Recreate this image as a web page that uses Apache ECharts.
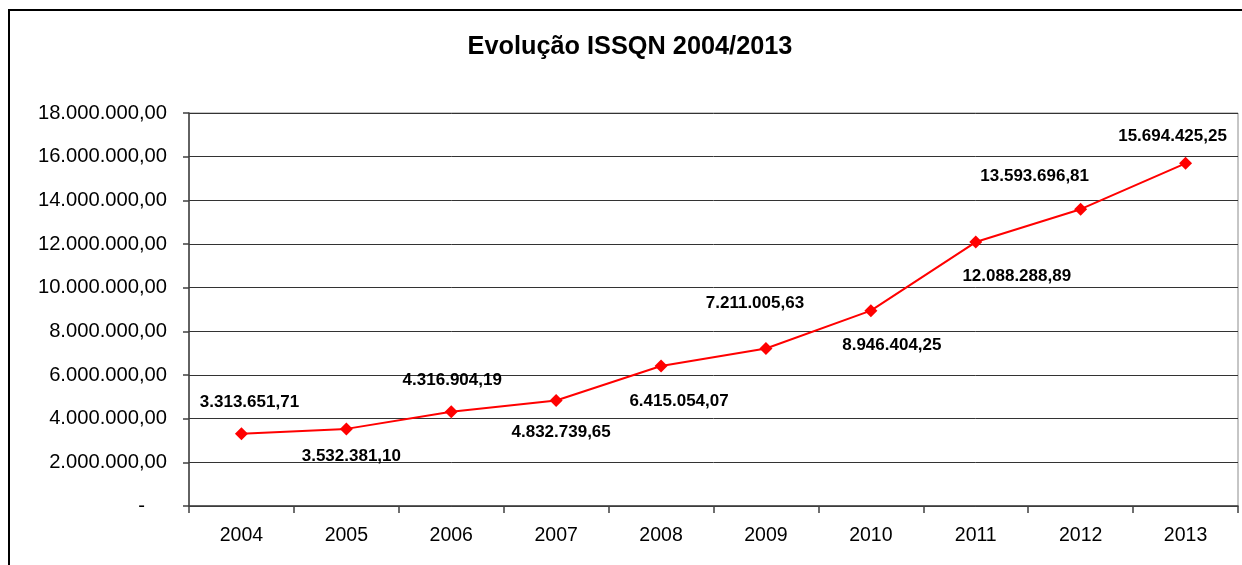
<!DOCTYPE html>
<html>
<head>
<meta charset="utf-8">
<script src="https://cdn.jsdelivr.net/npm/echarts@6/dist/echarts.min.js"></script>
<style>
html,body{margin:0;padding:0;background:#fff;}
#chart{width:1242px;height:565px;}
</style>
</head>
<body>
<div id="chart"></div>
<script>
// ---- data ----
const categories = ['2004','2005','2006','2007','2008','2009','2010','2011','2012','2013'];
const issqnValues = [3313651.71, 3532381.10, 4316904.19, 4832739.65, 6415054.07, 7211005.63, 8946404.25, 12088288.89, 13593696.81, 15694425.25];
const titleText = 'Evolução ISSQN 2004/2013';

// ---- label placement (style, not data) ----
const labelOffsets = [[8,-31],[5,27],[1,-31],[5,32],[18,35],[-11,-45],[21,35],[41,34],[-46,-33],[-13,-27]];

function fmtBR(v, dec) {
  const neg = v < 0; v = Math.abs(v);
  const s = v.toFixed(dec);
  const parts = s.split('.');
  const intPart = parts[0].replace(/\B(?=(\d{3})+(?!\d))/g, '.');
  return (neg ? '-' : '') + intPart + (dec > 0 ? ',' + parts[1] : '');
}

const FONT = "'Liberation Sans', Arial, sans-serif";
const chart = echarts.init(document.getElementById('chart'), null, {renderer: 'canvas'});

const seriesData = issqnValues.map((v, i) => ({
  value: v,
  label: { offset: labelOffsets[i] }
}));

chart.setOption({
  animation: false,
  backgroundColor: '#fff',
  title: {
    text: titleText,
    left: 625,
    top: 30,
    textAlign: 'center',
    textStyle: { fontFamily: FONT, fontSize: 25.3, fontWeight: 'bold', color: '#000' }
  },
  graphic: [{
    type: 'rect',
    shape: { x: 9, y: 10, width: 1300, height: 620 },
    style: { fill: 'none', stroke: '#000', lineWidth: 2 },
    silent: true
  }],
  grid: {
    left: 189, top: 113, width: 1049, height: 393,
    show: true, borderColor: '#8c8c8c', borderWidth: 1, backgroundColor: 'transparent'
  },
  xAxis: {
    type: 'category',
    data: categories,
    boundaryGap: true,
    axisLine: { show: true, lineStyle: { color: '#404040', width: 1.5 } },
    axisTick: { show: true, inside: false, length: 7, alignWithLabel: false, lineStyle: { color: '#404040', width: 1.5 } },
    axisLabel: { margin: 20, fontFamily: FONT, fontSize: 19.5, color: '#000' },
    splitLine: { show: false }
  },
  yAxis: {
    type: 'value',
    min: 0, max: 18000000, interval: 2000000,
    axisLine: { show: true, lineStyle: { color: '#404040', width: 1.5 } },
    axisTick: { show: true, inside: false, length: 6, lineStyle: { color: '#404040', width: 1.5 } },
    splitLine: { show: true, lineStyle: { color: '#333', width: 1 } },
    axisLabel: {
      margin: 22,
      fontFamily: FONT, fontSize: 20.2, color: '#000',
      formatter: function (v) { return v === 0 ? '{d|-}' : fmtBR(v, 2); },
      rich: { d: { fontFamily: FONT, fontSize: 20.2, color: '#000', padding: [0, 22, 0, 0] } }
    }
  },
  series: [{
    type: 'line',
    data: seriesData,
    symbol: 'diamond',
    symbolSize: 13,
    lineStyle: { color: '#ff0000', width: 2 },
    itemStyle: { color: '#ff0000' },
    label: {
      show: true,
      position: 'inside',
      fontFamily: FONT, fontSize: 17, fontWeight: 'bold', color: '#000',
      formatter: function (p) { return fmtBR(p.value, 2); }
    },
    z: 5
  }]
});
</script>
</body>
</html>
